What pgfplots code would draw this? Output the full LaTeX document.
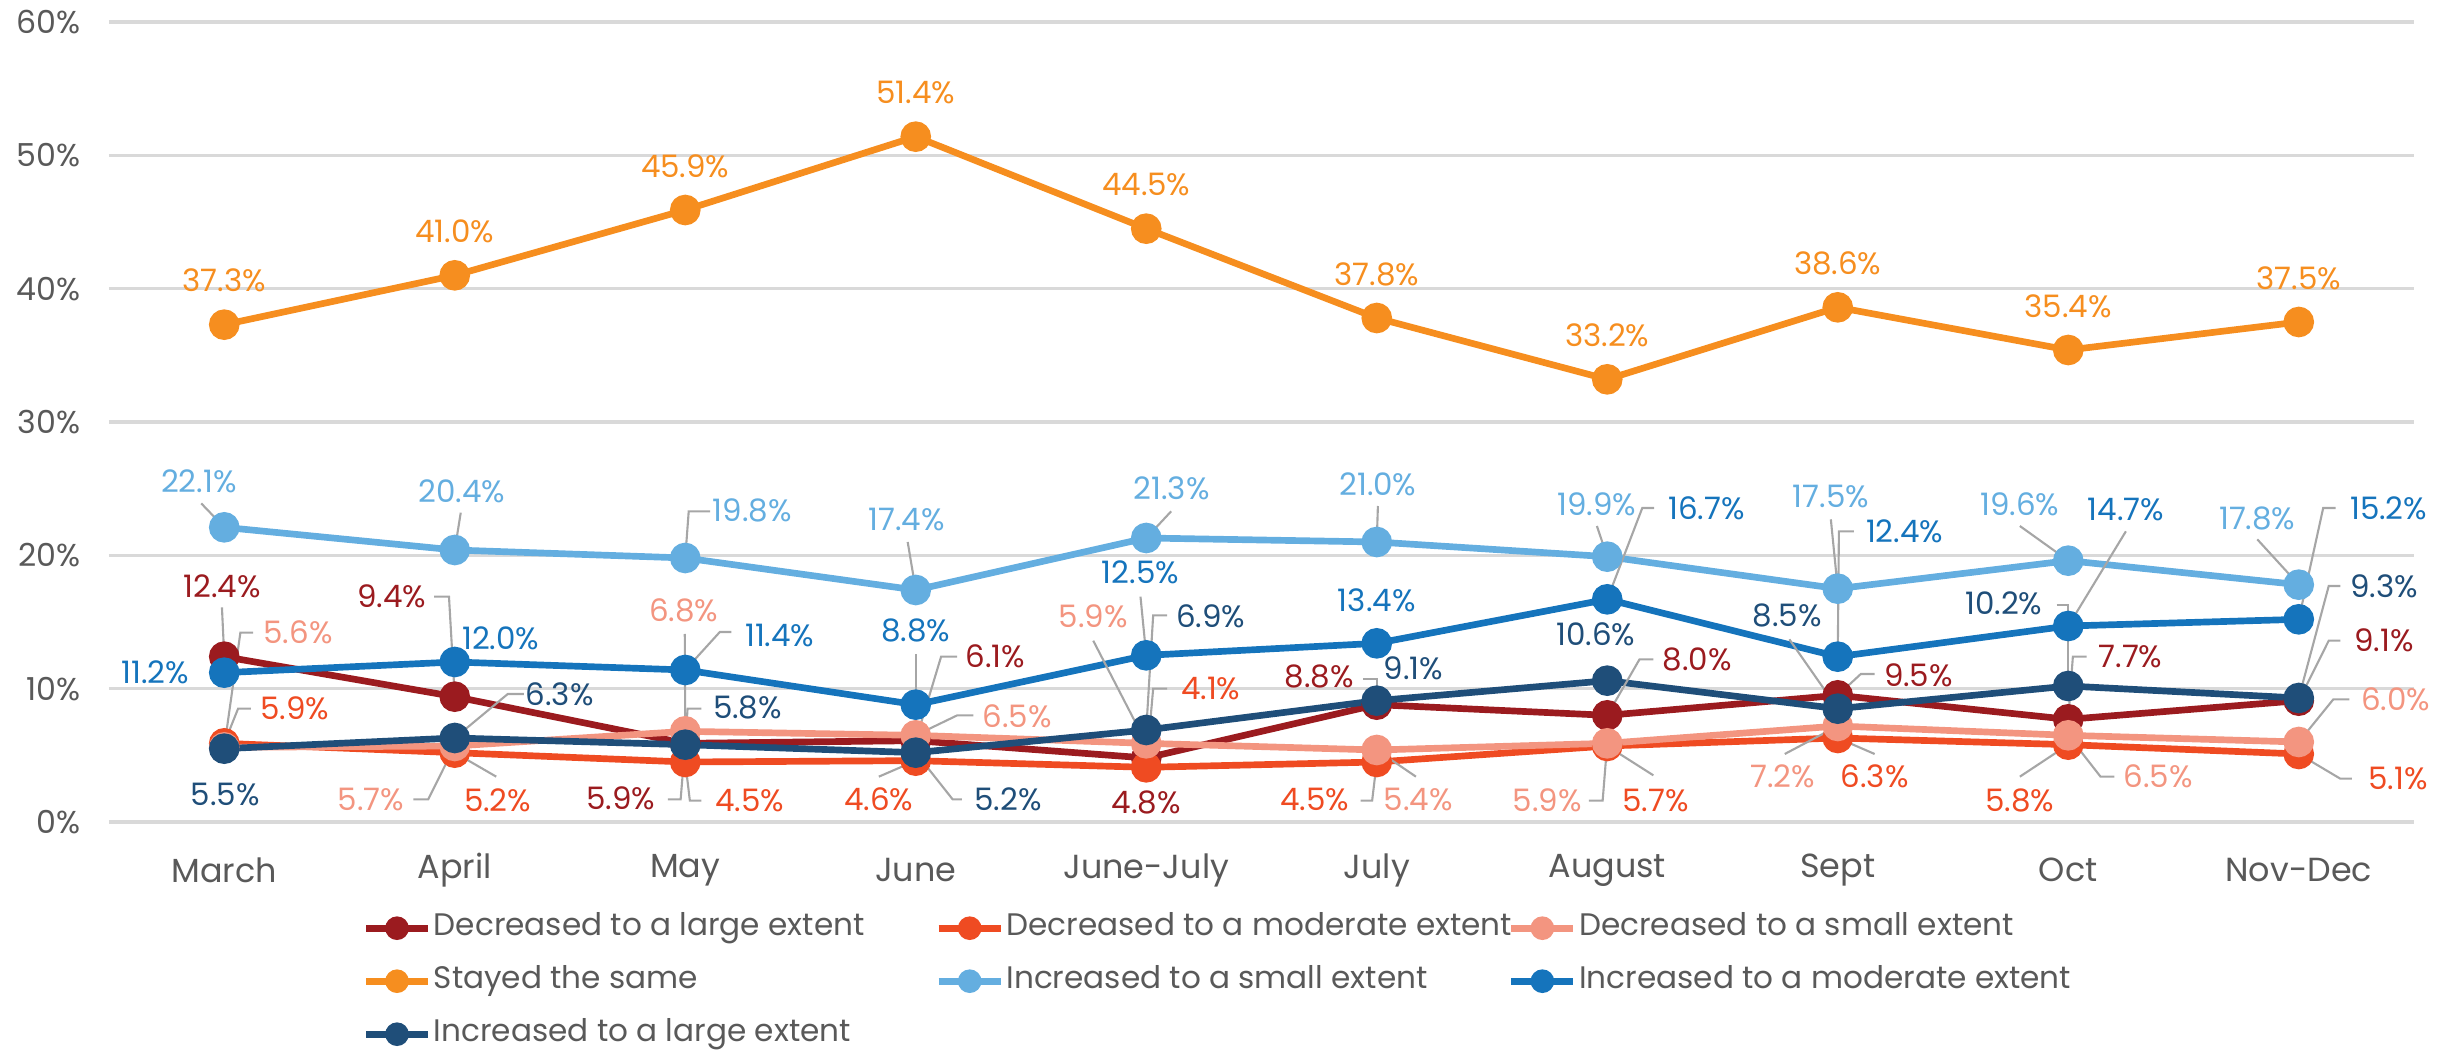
\documentclass[border=0pt]{standalone}
\usepackage{fontspec}
\setmainfont{Poppins}
\usepackage{pgfplots}
\pgfplotsset{compat=1.18}
\definecolor{cdr}{RGB}{155,27,31}
\definecolor{cro}{RGB}{239,75,34}
\definecolor{csa}{RGB}{243,149,128}
\definecolor{cor}{RGB}{246,142,31}
\definecolor{clb}{RGB}{100,174,224}
\definecolor{cbl}{RGB}{21,116,188}
\definecolor{cnv}{RGB}{31,78,121}
\definecolor{ctxt}{RGB}{89,89,89}
\definecolor{cgrid}{RGB}{217,217,217}
\definecolor{clead}{RGB}{166,166,166}
\tikzset{
  lab/.style={font=\fontsize{8.8}{10}\selectfont, inner sep=0pt, anchor=center},
  lead/.style={draw=clead, line width=0.6pt},
}
\begin{document}
\begin{tikzpicture}
\begin{axis}[
  at={(0,0)}, anchor=south west,
  scale only axis, width=230.5mm, height=80mm,
  xmin=-0.5, xmax=9.5, ymin=0, ymax=60,
  clip=false,
  axis line style={draw=none},
  major tick length=0pt,
  xtick={0,...,9},
  xticklabels={March,April,May,June,June-July,July,August,Sept,Oct,Nov-Dec},
  xticklabel style={font=\fontsize{9.5}{11}\selectfont, text=ctxt, anchor=center, yshift=-4.8mm},
  ytick={0,10,20,30,40,50,60},
  yticklabels={0\%,10\%,20\%,30\%,40\%,50\%,60\%},
  yticklabel style={font=\fontsize{9}{11}\selectfont, text=ctxt, anchor=east, inner sep=0pt, xshift=-2.8mm},
  ymajorgrids, grid style={cgrid, line width=0.9pt},
  every axis plot/.append style={line width=1.9pt, mark=*, mark size=3.4pt},
  legend columns=3,
  legend cell align=left,
  legend style={at={(axis cs:-0.5,0)}, anchor=north west, xshift=25.3mm, yshift=-7.4mm,
    draw=none, fill=none, inner sep=0pt, column sep=0pt, row sep=0pt,
    font=\fontsize{8.85}{10}\selectfont, text=ctxt,
    nodes={inner sep=0pt, text height=3.9mm, text depth=1.4mm, yshift=0.5mm},
    /tikz/every odd column/.append style={column sep=0.25mm}},
  legend image code/.code={\draw[mark repeat=2, mark phase=2, #1, mark size=2.4pt] plot coordinates {(0mm,0mm) (3.1mm,0mm) (6.2mm,0mm)};},
]
\addplot[cdr, mark options={fill=cdr}] coordinates {(0,12.4) (1,9.4) (2,5.9) (3,6.1) (4,4.8) (5,8.8) (6,8.0) (7,9.5) (8,7.7) (9,9.1)};
\addlegendentry{\makebox[50.15mm][l]{Decreased to a large extent}}
\addplot[cro, mark options={fill=cro}] coordinates {(0,5.9) (1,5.2) (2,4.5) (3,4.6) (4,4.1) (5,4.5) (6,5.7) (7,6.3) (8,5.8) (9,5.1)};
\addlegendentry{\makebox[50.15mm][l]{Decreased to a moderate extent}}
\addplot[csa, mark options={fill=csa}] coordinates {(0,5.6) (1,5.7) (2,6.8) (3,6.5) (4,5.9) (5,5.4) (6,5.9) (7,7.2) (8,6.5) (9,6.0)};
\addlegendentry{\makebox[50.15mm][l]{Decreased to a small extent}}
\addplot[cor, mark options={fill=cor}] coordinates {(0,37.3) (1,41.0) (2,45.9) (3,51.4) (4,44.5) (5,37.8) (6,33.2) (7,38.6) (8,35.4) (9,37.5)};
\addlegendentry{\makebox[50.15mm][l]{Stayed the same}}
\addplot[clb, mark options={fill=clb}] coordinates {(0,22.1) (1,20.4) (2,19.8) (3,17.4) (4,21.3) (5,21.0) (6,19.9) (7,17.5) (8,19.6) (9,17.8)};
\addlegendentry{\makebox[50.15mm][l]{Increased to a small extent}}
\addplot[cbl, mark options={fill=cbl}] coordinates {(0,11.2) (1,12.0) (2,11.4) (3,8.8) (4,12.5) (5,13.4) (6,16.7) (7,12.4) (8,14.7) (9,15.2)};
\addlegendentry{\makebox[50.15mm][l]{Increased to a moderate extent}}
\addplot[cnv, mark options={fill=cnv}] coordinates {(0,5.5) (1,6.3) (2,5.8) (3,5.2) (4,6.9) (5,9.1) (6,10.6) (7,8.5) (8,10.2) (9,9.3)};
\addlegendentry{\makebox[50.15mm][l]{Increased to a large extent}}

% leader lines
\draw[lead] (axis cs:-0.10,23.9) -- (axis cs:0,22.1);
\draw[lead] (axis cs:1.026,23.2) -- (axis cs:1,20.4);
\draw[lead] (axis cs:2.108,23.3) -- (axis cs:2.015,23.3) -- (axis cs:2,19.8);
\draw[lead] (axis cs:2.965,21.0) -- (axis cs:3,17.4);
\draw[lead] (axis cs:4.108,23.3) -- (axis cs:4,21.3);
\draw[lead] (axis cs:5.005,23.7) -- (axis cs:5,21.0);
\draw[lead] (axis cs:5.955,22.2) -- (axis cs:6,19.9);
\draw[lead] (axis cs:6.203,23.55) -- (axis cs:6.152,23.55) -- (axis cs:6,16.7);
\draw[lead] (axis cs:6.97,22.7) -- (axis cs:7,17.5);
\draw[lead] (axis cs:7.07,21.8) -- (axis cs:7.005,21.8) -- (axis cs:7,12.4);
\draw[lead] (axis cs:7.79,22.2) -- (axis cs:8,19.6);
\draw[lead] (axis cs:8.25,21.8) -- (axis cs:8,14.7);
\draw[lead] (axis cs:8.82,21.2) -- (axis cs:9,17.8);
\draw[lead] (axis cs:9.16,23.55) -- (axis cs:9.106,23.55) -- (axis cs:9,15.2);
% March
\draw[lead] (axis cs:-0.01,16.1) -- (axis cs:0,12.4);
\draw[lead] (axis cs:0.125,14.2) -- (axis cs:0.07,14.2) -- (axis cs:0,5.6);
\draw[lead] (axis cs:0.115,8.5) -- (axis cs:0.06,8.5) -- (axis cs:0,5.9);
% April
\draw[lead] (axis cs:0.91,16.9) -- (axis cs:0.975,16.9) -- (axis cs:1,9.4);
\draw[lead] (axis cs:1.3,9.6) -- (axis cs:1.23,9.6) -- (axis cs:1,6.3);
\draw[lead] (axis cs:0.82,1.7) -- (axis cs:0.885,1.7) -- (axis cs:1,5.7);
\draw[lead] (axis cs:1.18,3.4) -- (axis cs:1,5.2);
% May
\draw[lead] (axis cs:1.998,14.1) -- (axis cs:2,6.8);
\draw[lead] (axis cs:2.2,14.25) -- (axis cs:2.15,14.25) -- (axis cs:2,11.4);
\draw[lead] (axis cs:2.07,8.5) -- (axis cs:2.01,8.5) -- (axis cs:2,5.8);
\draw[lead] (axis cs:1.925,1.7) -- (axis cs:1.98,1.7) -- (axis cs:2,5.9);
\draw[lead] (axis cs:2.07,1.6) -- (axis cs:2.02,1.6) -- (axis cs:2,4.5);
% June
\draw[lead] (axis cs:3.0,12.6) -- (axis cs:3,8.8);
\draw[lead] (axis cs:3.18,12.4) -- (axis cs:3.11,12.4) -- (axis cs:3,6.1);
\draw[lead] (axis cs:3.25,8.0) -- (axis cs:3.18,8.0) -- (axis cs:3,6.5);
\draw[lead] (axis cs:2.84,3.4) -- (axis cs:3,4.6);
\draw[lead] (axis cs:3.2,1.7) -- (axis cs:3.16,1.7) -- (axis cs:3,5.2);
% June-July
\draw[lead] (axis cs:3.975,16.9) -- (axis cs:4,12.5);
\draw[lead] (axis cs:3.77,13.6) -- (axis cs:4,5.9);
\draw[lead] (axis cs:4.09,15.5) -- (axis cs:4.03,15.5) -- (axis cs:4,6.9);
\draw[lead] (axis cs:4.09,10.0) -- (axis cs:4.03,10.0) -- (axis cs:4,4.1);
% July
\draw[lead] (axis cs:4.94,10.75) -- (axis cs:5.0,10.75) -- (axis cs:5,8.8);
\draw[lead] (axis cs:4.93,1.6) -- (axis cs:4.98,1.6) -- (axis cs:5,4.5);
\draw[lead] (axis cs:5.17,3.4) -- (axis cs:5,5.4);
% August
\draw[lead] (axis cs:6.2,12.2) -- (axis cs:6.14,12.2) -- (axis cs:6,8.0);
\draw[lead] (axis cs:5.92,1.6) -- (axis cs:5.98,1.6) -- (axis cs:6,5.9);
\draw[lead] (axis cs:6.2,3.5) -- (axis cs:6,5.7);
% Sept
\draw[lead] (axis cs:6.79,13.7) -- (axis cs:7,8.5);
\draw[lead] (axis cs:7.16,11.1) -- (axis cs:7.1,11.1) -- (axis cs:7,9.5);
\draw[lead] (axis cs:6.77,5.1) -- (axis cs:7,7.2);
\draw[lead] (axis cs:7.16,5.1) -- (axis cs:7,6.3);
% Oct
\draw[lead] (axis cs:7.95,16.3) -- (axis cs:8.0,16.3) -- (axis cs:8,10.2);
\draw[lead] (axis cs:8.08,12.4) -- (axis cs:8.02,12.4) -- (axis cs:8,7.7);
\draw[lead] (axis cs:7.79,3.4) -- (axis cs:8,5.8);
\draw[lead] (axis cs:8.2,3.4) -- (axis cs:8.14,3.4) -- (axis cs:8,6.5);
% Nov-Dec
\draw[lead] (axis cs:9.18,17.7) -- (axis cs:9.13,17.7) -- (axis cs:9,9.3);
\draw[lead] (axis cs:9.18,13.6) -- (axis cs:9.13,13.6) -- (axis cs:9,9.1);
\draw[lead] (axis cs:9.22,9.2) -- (axis cs:9.15,9.2) -- (axis cs:9,6.0);
\draw[lead] (axis cs:9.23,3.25) -- (axis cs:9.18,3.25) -- (axis cs:9,5.1);

% labels: stayed the same
\node[lab, text=cor] at (axis cs:0,40.6) {37.3\%};
\node[lab, text=cor] at (axis cs:1,44.3) {41.0\%};
\node[lab, text=cor] at (axis cs:2,49.2) {45.9\%};
\node[lab, text=cor] at (axis cs:3,54.7) {51.4\%};
\node[lab, text=cor] at (axis cs:4,47.8) {44.5\%};
\node[lab, text=cor] at (axis cs:5,41.1) {37.8\%};
\node[lab, text=cor] at (axis cs:6,36.5) {33.2\%};
\node[lab, text=cor] at (axis cs:7,41.9) {38.6\%};
\node[lab, text=cor] at (axis cs:8,38.7) {35.4\%};
\node[lab, text=cor] at (axis cs:9,40.8) {37.5\%};
% increased small
\node[lab, text=clb] at (axis cs:-0.11,25.55) {22.1\%};
\node[lab, text=clb] at (axis cs:1.03,24.8) {20.4\%};
\node[lab, text=clb] at (axis cs:2.29,23.4) {19.8\%};
\node[lab, text=clb] at (axis cs:2.96,22.7) {17.4\%};
\node[lab, text=clb] at (axis cs:4.11,25.05) {21.3\%};
\node[lab, text=clb] at (axis cs:5.005,25.3) {21.0\%};
\node[lab, text=clb] at (axis cs:5.955,23.8) {19.9\%};
\node[lab, text=clb] at (axis cs:6.97,24.4) {17.5\%};
\node[lab, text=clb] at (axis cs:7.79,23.8) {19.6\%};
\node[lab, text=clb] at (axis cs:8.82,22.8) {17.8\%};
% decreased large
\node[lab, text=cdr] at (axis cs:-0.01,17.7) {12.4\%};
\node[lab, text=cdr] at (axis cs:0.727,16.9) {9.4\%};
\node[lab, text=cdr] at (axis cs:1.72,1.75) {5.9\%};
\node[lab, text=cdr] at (axis cs:3.345,12.4) {6.1\%};
\node[lab, text=cdr] at (axis cs:4.0,1.5) {4.8\%};
\node[lab, text=cdr] at (axis cs:4.75,10.9) {8.8\%};
\node[lab, text=cdr] at (axis cs:6.39,12.2) {8.0\%};
\node[lab, text=cdr] at (axis cs:7.35,11.0) {9.5\%};
\node[lab, text=cdr] at (axis cs:8.27,12.4) {7.7\%};
\node[lab, text=cdr] at (axis cs:9.37,13.6) {9.1\%};
% decreased moderate
\node[lab, text=cro] at (axis cs:0.305,8.5) {5.9\%};
\node[lab, text=cro] at (axis cs:1.186,1.6) {5.2\%};
\node[lab, text=cro] at (axis cs:2.28,1.6) {4.5\%};
\node[lab, text=cro] at (axis cs:2.84,1.7) {4.6\%};
\node[lab, text=cro] at (axis cs:4.28,10.0) {4.1\%};
\node[lab, text=cro] at (axis cs:4.73,1.7) {4.5\%};
\node[lab, text=cro] at (axis cs:6.21,1.6) {5.7\%};
\node[lab, text=cro] at (axis cs:7.16,3.4) {6.3\%};
\node[lab, text=cro] at (axis cs:7.79,1.6) {5.8\%};
\node[lab, text=cro] at (axis cs:9.43,3.25) {5.1\%};
% decreased small
\node[lab, text=csa] at (axis cs:0.32,14.2) {5.6\%};
\node[lab, text=csa] at (axis cs:0.636,1.7) {5.7\%};
\node[lab, text=csa] at (axis cs:1.993,15.9) {6.8\%};
\node[lab, text=csa] at (axis cs:3.44,7.9) {6.5\%};
\node[lab, text=csa] at (axis cs:3.77,15.4) {5.9\%};
\node[lab, text=csa] at (axis cs:5.18,1.7) {5.4\%};
\node[lab, text=csa] at (axis cs:5.74,1.6) {5.9\%};
\node[lab, text=csa] at (axis cs:6.76,3.4) {7.2\%};
\node[lab, text=csa] at (axis cs:8.39,3.4) {6.5\%};
\node[lab, text=csa] at (axis cs:9.42,9.2) {6.0\%};
% increased moderate
\node[lab, text=cbl] at (axis cs:-0.30,11.25) {11.2\%};
\node[lab, text=cbl] at (axis cs:1.2,13.8) {12.0\%};
\node[lab, text=cbl] at (axis cs:2.41,14.0) {11.4\%};
\node[lab, text=cbl] at (axis cs:3.0,14.4) {8.8\%};
\node[lab, text=cbl] at (axis cs:3.975,18.7) {12.5\%};
\node[lab, text=cbl] at (axis cs:5.0,16.6) {13.4\%};
\node[lab, text=cbl] at (axis cs:6.43,23.55) {16.7\%};
\node[lab, text=cbl] at (axis cs:7.29,21.8) {12.4\%};
\node[lab, text=cbl] at (axis cs:8.25,23.4) {14.7\%};
\node[lab, text=cbl] at (axis cs:9.39,23.55) {15.2\%};
% increased large
\node[lab, text=cnv] at (axis cs:0.005,2.1) {5.5\%};
\node[lab, text=cnv] at (axis cs:1.455,9.6) {6.3\%};
\node[lab, text=cnv] at (axis cs:2.27,8.6) {5.8\%};
\node[lab, text=cnv] at (axis cs:3.40,1.7) {5.2\%};
\node[lab, text=cnv] at (axis cs:4.28,15.4) {6.9\%};
\node[lab, text=cnv] at (axis cs:5.16,11.5) {9.1\%};
\node[lab, text=cnv] at (axis cs:5.95,14.1) {10.6\%};
\node[lab, text=cnv] at (axis cs:6.78,15.5) {8.5\%};
\node[lab, text=cnv] at (axis cs:7.72,16.4) {10.2\%};
\node[lab, text=cnv] at (axis cs:9.37,17.7) {9.3\%};
\end{axis}
\pgfresetboundingbox
\path[use as bounding box] (-10.9mm,-22.9mm) rectangle (235.2mm,82.2mm);
\end{tikzpicture}
\end{document}
